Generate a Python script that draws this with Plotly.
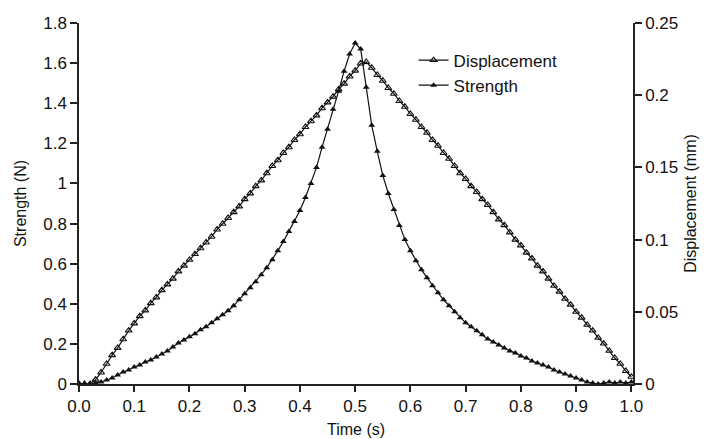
import plotly.graph_objects as go

time_s = [0.00, 0.01, 0.02, 0.03, 0.04, 0.05, 0.06, 0.07, 0.08, 0.09,
          0.10, 0.11, 0.12, 0.13, 0.14, 0.15, 0.16, 0.17, 0.18, 0.19,
          0.20, 0.21, 0.22, 0.23, 0.24, 0.25, 0.26, 0.27, 0.28, 0.29,
          0.30, 0.31, 0.32, 0.33, 0.34, 0.35, 0.36, 0.37, 0.38, 0.39,
          0.40, 0.41, 0.42, 0.43, 0.44, 0.45, 0.46, 0.47, 0.48, 0.49,
          0.50, 0.51, 0.52, 0.53, 0.54, 0.55, 0.56, 0.57, 0.58, 0.59,
          0.60, 0.61, 0.62, 0.63, 0.64, 0.65, 0.66, 0.67, 0.68, 0.69,
          0.70, 0.71, 0.72, 0.73, 0.74, 0.75, 0.76, 0.77, 0.78, 0.79,
          0.80, 0.81, 0.82, 0.83, 0.84, 0.85, 0.86, 0.87, 0.88, 0.89,
          0.90, 0.91, 0.92, 0.93, 0.94, 0.95, 0.96, 0.97, 0.98, 0.99,
          1.00]

strength_n = [0.0, 0.0, 0.0, 0.005, 0.01, 0.02, 0.03, 0.045, 0.06, 0.07,
              0.085, 0.095, 0.11, 0.12, 0.135, 0.15, 0.165, 0.185, 0.205, 0.22,
              0.235, 0.25, 0.27, 0.285, 0.305, 0.325, 0.345, 0.365, 0.39, 0.42,
              0.45, 0.48, 0.51, 0.545, 0.58, 0.62, 0.665, 0.71, 0.76, 0.81,
              0.865, 0.93, 1.0, 1.08, 1.18, 1.27, 1.37, 1.46, 1.56, 1.645,
              1.70, 1.67, 1.48, 1.29, 1.16, 1.04, 0.95, 0.87, 0.79, 0.72,
              0.665, 0.615, 0.57, 0.53, 0.49, 0.455, 0.42, 0.39, 0.36, 0.33,
              0.305, 0.285, 0.265, 0.245, 0.225, 0.21, 0.195, 0.18, 0.165, 0.155,
              0.14, 0.13, 0.115, 0.105, 0.095, 0.085, 0.07, 0.06, 0.05, 0.04,
              0.03, 0.02, 0.01, 0.005, 0.0, 0.005, 0.01, 0.005, 0.01, 0.005,
              0.01]

displacement_mm = [0.0, 0.0, 0.0, 0.003, 0.008, 0.014, 0.02, 0.025, 0.031, 0.037,
                   0.042, 0.047, 0.051, 0.056, 0.06, 0.065, 0.069, 0.073, 0.078, 0.082,
                   0.086, 0.09, 0.094, 0.098, 0.102, 0.107, 0.111, 0.115, 0.119, 0.123,
                   0.128, 0.132, 0.137, 0.141, 0.146, 0.151, 0.155, 0.16, 0.164, 0.169,
                   0.173, 0.178, 0.182, 0.186, 0.191, 0.195, 0.199, 0.204, 0.208, 0.213,
                   0.217, 0.222, 0.223, 0.219, 0.214, 0.21, 0.205, 0.201, 0.196, 0.192,
                   0.187, 0.183, 0.178, 0.174, 0.169, 0.165, 0.16, 0.156, 0.151, 0.146,
                   0.142, 0.137, 0.133, 0.128, 0.124, 0.119, 0.114, 0.11, 0.105, 0.1,
                   0.096, 0.091, 0.087, 0.082, 0.078, 0.073, 0.068, 0.064, 0.059, 0.055,
                   0.05, 0.046, 0.041, 0.037, 0.032, 0.028, 0.023, 0.018, 0.014, 0.009,
                   0.005]

x_ticks = [0.0, 0.1, 0.2, 0.3, 0.4, 0.5, 0.6, 0.7, 0.8, 0.9, 1.0]
y_left_ticks = [0, 0.2, 0.4, 0.6, 0.8, 1.0, 1.2, 1.4, 1.6, 1.8]
y_right_ticks = [0, 0.05, 0.1, 0.15, 0.2, 0.25]

FONT = "Arial, Liberation Sans, Helvetica, sans-serif"
AX = "#222222"
X_RANGE = [0, 1.003]
YL_RANGE = [0, 1.8]
YR_RANGE = [0, 0.25]

fig = go.Figure()
fig.add_trace(go.Scatter(
    x=time_s, y=displacement_mm, name="Displacement", yaxis="y2",
    mode="lines+markers",
    line=dict(color="#111111", width=1.2),
    marker=dict(symbol="triangle-up-open", size=6, color="#111111",
                line=dict(width=1.1, color="#111111")),
))
fig.add_trace(go.Scatter(
    x=time_s, y=strength_n, name="Strength", yaxis="y",
    mode="lines+markers",
    line=dict(color="#111111", width=1.2),
    marker=dict(symbol="triangle-up", size=6, color="#111111"),
))

tickfont = dict(family=FONT, size=17, color="#111111")

# the page body adds an 8px offset, so the figure is 8px smaller on each axis
fig.update_layout(
    width=700, height=431,
    margin=dict(l=71, r=75, t=15, b=55, autoexpand=False),
    paper_bgcolor="white", plot_bgcolor="white",
    font=dict(family=FONT, size=16, color="#111111"),
    showlegend=True,
    legend=dict(x=0.604, y=0.946, xanchor="left", yanchor="top",
                bgcolor="rgba(0,0,0,0)", font=dict(family=FONT, size=17),
                tracegroupgap=0, itemwidth=30),
    xaxis=dict(range=X_RANGE, tickvals=x_ticks, tickformat=".1f", automargin=False,
               ticks="outside", ticklen=6, tickwidth=1.5, tickcolor=AX,
               showline=True, linecolor=AX, linewidth=1.5,
               showgrid=False, zeroline=False, tickfont=tickfont,
               title=dict(text="Time (s)", font=dict(family=FONT, size=16), standoff=9)),
    yaxis=dict(range=YL_RANGE, tickvals=y_left_ticks, automargin=False,
               ticks="outside", ticklen=7, tickwidth=1.5, tickcolor=AX,
               showline=True, linecolor=AX, linewidth=1.5,
               showgrid=False, zeroline=False, tickfont=tickfont,
               title=dict(text="Strength (N)", font=dict(family=FONT, size=16), standoff=13)),
    yaxis2=dict(range=YR_RANGE, tickvals=y_right_ticks, overlaying="y", side="right",
                anchor="x", automargin=False,
                ticks="outside", ticklen=7, tickwidth=1.5, tickcolor=AX,
                showline=True, linecolor=AX, linewidth=1.5,
                showgrid=False, zeroline=False, tickfont=tickfont,
                title=dict(text="Displacement (mm)", font=dict(family=FONT, size=16), standoff=8)),
    # inner halves of the crossing tick marks
    xaxis3=dict(range=X_RANGE, tickvals=x_ticks, overlaying="x", anchor="y", side="bottom",
                automargin=False,
                ticks="inside", ticklen=6, tickwidth=1.5, tickcolor=AX,
                showticklabels=False, showline=False, showgrid=False, zeroline=False),
    yaxis3=dict(range=YL_RANGE, tickvals=y_left_ticks, overlaying="y", side="left",
                anchor="x", automargin=False,
                ticks="inside", ticklen=6, tickwidth=1.5, tickcolor=AX,
                showticklabels=False, showline=False, showgrid=False, zeroline=False),
    yaxis4=dict(range=YR_RANGE, tickvals=y_right_ticks, overlaying="y", side="right",
                anchor="x", automargin=False,
                ticks="inside", ticklen=6, tickwidth=1.5, tickcolor=AX,
                showticklabels=False, showline=False, showgrid=False, zeroline=False),
)

fig.write_html("out.html")
